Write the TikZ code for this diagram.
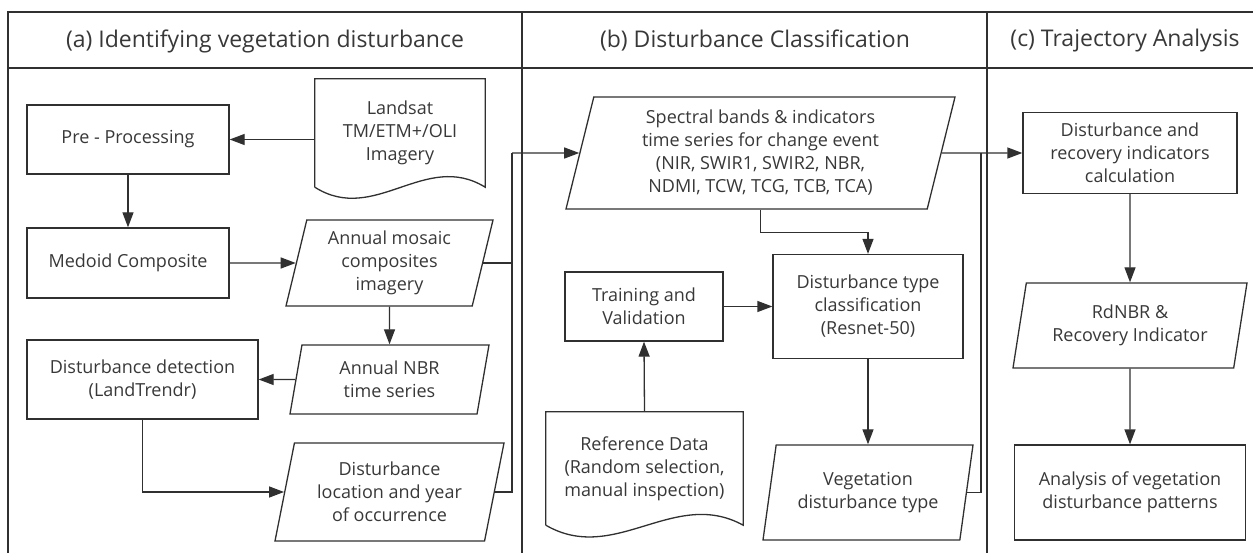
\documentclass[tikz,border=0pt]{standalone}
\usepackage{fontspec}
\setmainfont{Open Sans}
\usetikzlibrary{arrows.meta,shapes.geometric}
\definecolor{flowink}{HTML}{303030}
\definecolor{flowtext}{HTML}{383838}

\begin{document}
\begin{tikzpicture}[
  x=1pt,
  y=-1pt,
  every node/.style={font=\fontsize{18}{23}\selectfont, text=flowtext, align=center},
  frame/.style={flowink, line width=1.3pt},
  heading/.style={font=\fontsize{23}{26}\selectfont},
  proc/.style={draw=flowink, line width=1.3pt, rectangle, inner sep=0pt},
  datum/.style={draw=flowink, line width=1.3pt, trapezium,
                trapezium left angle=72, trapezium right angle=108,
                trapezium stretches body, inner sep=0pt},
  docu/.style={rectangle, inner sep=0pt},
  link/.style={flowink, line width=1.3pt},
  flow/.style={flowink, line width=1.3pt,
               -{Triangle[length=15pt, width=11pt]}}
]
  \useasboundingbox (0,0) rectangle (1253,553);

  %% ---- frame and column heads ----------------------------------------
  \draw[frame] (1253,12) -- (8,12) -- (8,553);
  \draw[frame] (8,68) -- (1253,68);
  \draw[frame] (522,12) -- (522,553);
  \draw[frame] (987,12) -- (987,553);
  \node[heading] (hda) at (265,41) {(a) Identifying vegetation disturbance};
  \node[heading] (hdb) at (755,41) {(b) Disturbance Classification};
  \node[heading] (hdc) at (1125,41) {(c) Trajectory Analysis};

  %% ---- (a) identifying vegetation disturbance -------------------------
  \node[proc, minimum width=202pt, minimum height=69pt] (pre) at (128,139.5)
    {Pre - Processing};
  \node[proc, minimum width=202pt, minimum height=70pt] (medoid) at (128,263)
    {Medoid Composite};
  \node[proc, minimum width=231pt, minimum height=79pt] (detect) at (142.5,379.5)
    {Disturbance detection\\(LandTrendr)};
  \node[docu, minimum width=170pt, minimum height=108pt] (lsat) at (400,133)
    {Landsat\\TM/ETM+/OLI\\Imagery};
  \draw[link] (lsat.south west) -- (lsat.north west) -- (lsat.north east)
    -- (lsat.south east) .. controls +(-60,-37) and +(60,38) .. (lsat.south west);
  \node[datum, minimum width=207pt, minimum height=86pt] (mosaic) at (389.5,263)
    {Annual mosaic\\composites\\imagery};
  \node[datum, minimum width=199pt, minimum height=69pt] (nbr) at (389.5,379.5)
    {Annual NBR\\time series};
  \node[datum, minimum width=229pt, minimum height=98pt] (loc) at (389.5,492)
    {Disturbance\\location and year\\of occurrence};

  \draw[flow] (lsat.west |- pre) -- (pre);
  \draw[flow] (pre) -- (medoid);
  \draw[flow] (medoid) -- (mosaic);
  \draw[flow] (mosaic) -- (nbr);
  \draw[flow] (nbr) -- (detect);
  \draw[flow] (detect.south) |- (loc);

  % both outputs of (a) join at x = 512 and feed (b)
  \coordinate (joina) at (512,153);
  \draw[link] (mosaic.east) -- (mosaic.east -| joina);
  \draw[link] (loc.east) -| (joina);

  %% ---- (b) disturbance classification --------------------------------
  \node[datum, minimum width=389pt, minimum height=112pt] (spec) at (760.5,153)
    {Spectral bands \& indicators\\time series for change event\\(NIR, SWIR1, SWIR2, NBR,\\NDMI, TCW, TCG, TCB, TCA)};
  \node[proc, minimum width=158pt, minimum height=69pt] (train) at (644,306.5)
    {Training and\\Validation};
  \node[proc, minimum width=190pt, minimum height=104pt] (type) at (868,306.5)
    {Disturbance type\\classification\\(Resnet-50)};
  \node[docu, minimum width=197pt, minimum height=113pt] (ref) at (644.5,468.5)
    {Reference Data\\(Random selection,\\manual inspection)};
  \draw[link] (ref.south west) -- (ref.north west) -- (ref.north east)
    -- (ref.south east) .. controls +(-69,-38) and +(69,40) .. (ref.south west);
  \node[datum, minimum width=210pt, minimum height=95pt] (veg) at (868,492.5)
    {Vegetation\\disturbance type};

  \draw[flow] (joina) -- (spec);
  \draw[flow] (spec.south) -- ++(0,23) -| (type.north);
  \draw[flow] (ref.north) -- (train.south);
  \draw[flow] (train) -- (type);
  \draw[flow] (type) -- (veg);

  \coordinate (joinb) at (981,153);
  \draw[link] (veg.east) -| (joinb);

  %% ---- (c) trajectory analysis ---------------------------------------
  \node[proc, minimum width=214pt, minimum height=81pt] (calc) at (1130,153)
    {Disturbance and\\recovery indicators\\calculation};
  \node[datum, minimum width=234pt, minimum height=85pt] (rdnbr) at (1130,325.5)
    {RdNBR \&\\Recovery Indicator};
  \node[proc, minimum width=231pt, minimum height=95pt] (ana) at (1130,492.5)
    {Analysis of vegetation\\disturbance patterns};

  \draw[flow] (spec) -- (calc);
  \draw[flow] (calc) -- (rdnbr);
  \draw[flow] (rdnbr) -- (ana);

\end{tikzpicture}
\end{document}
